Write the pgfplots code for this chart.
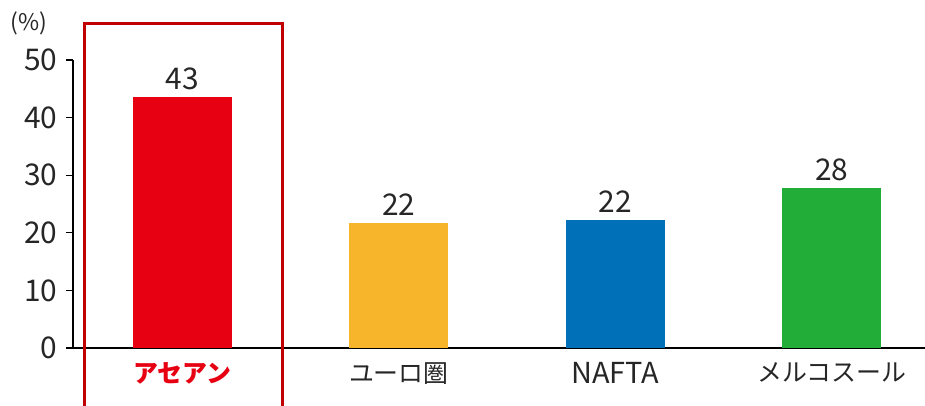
\documentclass[border=0pt]{standalone}
\usepackage{pgfplots}
\pgfplotsset{compat=1.18}
\usepackage{fontspec}
\setmainfont{Noto Sans CJK JP}
\definecolor{cred}{HTML}{E60012}
\definecolor{corange}{HTML}{F7B52C}
\definecolor{cblue}{HTML}{0070B8}
\definecolor{cgreen}{HTML}{22AC38}
\definecolor{boxred}{HTML}{C00000}
\begin{document}
\begin{tikzpicture}
\begin{axis}[
  name=ax,
  scale only axis,
  width=852bp, height=288bp,
  xmin=-0.505, xmax=3.43,
  ymin=0, ymax=50,
  ytick={0,10,20,30,40,50},
  xtick={0,1,2,3},
  xticklabels={{\textcolor{cred}{\bfseries アセアン}},ユーロ圏,{\fontsize{29}{32}\selectfont NAFTA},メルコスール},
  axis x line=bottom, axis y line=left,
  x axis line style={-, line width=2.2bp},
  y axis line style={-, line width=1.2bp},
  xtick style={draw=none},
  ytick style={line width=1.2bp, black},
  tick align=outside,
  major tick length=7bp,
  yticklabel style={font=\fontsize{30}{34}\selectfont, text=black!85, xshift=-5bp},
  xticklabel style={font=\fontsize{25}{30}\selectfont, text=black!85, yshift=-4bp},
  /pgf/number format/assume math mode=true,
  clip=false,
  ybar, bar shift=0pt, bar width=99bp,
  nodes near coords,
  point meta=explicit symbolic,
  every node near coord/.append style={font=\fontsize{30}{34}\selectfont, text=black!85, yshift=4bp},
]
\addplot[fill=cred, draw=none] coordinates {(0,43.5) [43]};
\addplot[fill=corange, draw=none] coordinates {(1,21.7) [22]};
\addplot[fill=cblue, draw=none] coordinates {(2,22.2) [22]};
\addplot[fill=cgreen, draw=none] coordinates {(3,27.7) [28]};
\draw[boxred, line width=3bp] (axis cs:-0.45,-12) |- (axis cs:0.464,56.4) -- (axis cs:0.464,-12);
\node[font=\fontsize{23}{27}\selectfont, text=black!85] at (axis cs:-0.71,56.3) {(\%)};
\end{axis}
\pgfresetboundingbox
\path ([xshift=-73bp,yshift=-58bp]ax.south west) rectangle ++(925bp,406bp);
\end{tikzpicture}
\end{document}
